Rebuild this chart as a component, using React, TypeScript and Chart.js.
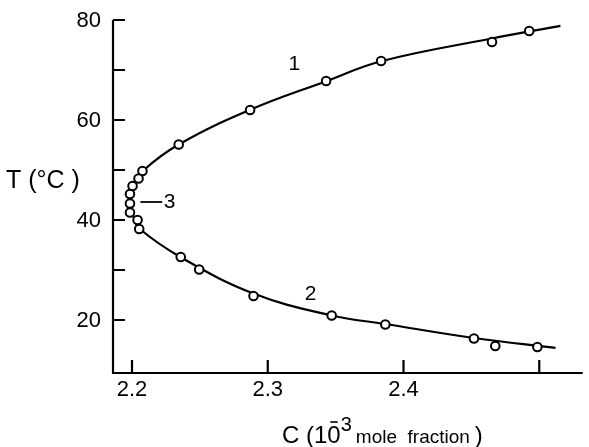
import React, { useEffect, useRef } from "react";
import { Chart, registerables } from "chart.js";

Chart.register(...registerables);

// Experimental points (C in 1e-3 mole fraction, T in °C)
const branch1C = [2.2344, 2.287, 2.343, 2.3835, 2.4652, 2.4926];
const branch1T = [55.1, 62.0, 67.8, 71.8, 75.6, 77.8];
const branch3C = [2.2077, 2.2048, 2.2004, 2.1985, 2.1985, 2.1985, 2.2041, 2.2053];
const branch3T = [49.8, 48.3, 46.8, 45.2, 43.3, 41.5, 40.0, 38.2];
const branch2C = [2.2359, 2.2495, 2.2895, 2.3471, 2.3866, 2.4519, 2.4676, 2.4986];
const branch2T = [32.6, 30.1, 24.8, 20.9, 19.1, 16.3, 14.8, 14.6];

// Fitted curve (from top-right, round the nose, to bottom-right)
const curveC = [2.5156, 2.4649, 2.3835, 2.343, 2.287, 2.2344, 2.2077, 2.2009, 2.1984, 2.1988, 2.2017, 2.2053, 2.2359, 2.2895, 2.3471, 2.3866, 2.4519, 2.512];
const curveT = [78.84, 76.3, 71.76, 67.76, 62.04, 55.1, 49.76, 46.9, 44.3, 42.3, 40.3, 38.3, 32.56, 25.3, 20.9, 19.2, 16.4, 14.44];

// Axes
const xMin = 2.186;
const xMax = 2.532;
const yMin = 9.4;
const yMax = 80;
const xTickValues = [2.2, 2.3, 2.4, 2.5];
const xTickLabels = ["2.2", "2.3", "2.4", ""];
const yTickValues = [20, 30, 40, 50, 60, 70, 80];
const yTickLabels = ["20", "", "40", "", "60", "", "80"];

const FONT = "'Liberation Sans', Arial, sans-serif";

const zip = (xs: number[], ys: number[]) => xs.map((x, i) => ({ x, y: ys[i] }));

const axesPlugin = {
  id: "axesPlugin",
  afterDraw(chart: any) {
    const ctx = chart.ctx as CanvasRenderingContext2D;
    const xs = chart.scales.x;
    const ys = chart.scales.y;
    const { left, right, top, bottom } = chart.chartArea;
    ctx.save();
    ctx.strokeStyle = "#000";
    ctx.fillStyle = "#000";
    ctx.lineWidth = 2.2;
    ctx.lineCap = "butt";
    // axis lines
    ctx.beginPath();
    ctx.moveTo(left, top);
    ctx.lineTo(left, bottom);
    ctx.lineTo(right, bottom);
    ctx.stroke();
    // inward ticks
    ctx.beginPath();
    yTickValues.forEach((v) => {
      const py = ys.getPixelForValue(v);
      ctx.moveTo(left, py);
      ctx.lineTo(left + 12, py);
    });
    xTickValues.forEach((v) => {
      const px = xs.getPixelForValue(v);
      ctx.moveTo(px, bottom);
      ctx.lineTo(px, bottom - 13);
    });
    ctx.stroke();
    // tick labels
    ctx.font = `22px ${FONT}`;
    ctx.textAlign = "right";
    ctx.textBaseline = "middle";
    yTickValues.forEach((v, i) => {
      if (!yTickLabels[i]) return;
      ctx.fillText(yTickLabels[i], left - 12, ys.getPixelForValue(v) + 1);
    });
    ctx.textAlign = "center";
    ctx.textBaseline = "top";
    xTickValues.forEach((v, i) => {
      if (!xTickLabels[i]) return;
      ctx.fillText(xTickLabels[i], xs.getPixelForValue(v), bottom + 6);
    });
    // y title
    ctx.font = `25px ${FONT}`;
    ctx.textAlign = "left";
    ctx.textBaseline = "middle";
    ctx.fillText("T (°C )", 6, 181);
    // x title
    ctx.textBaseline = "alphabetic";
    ctx.font = `24px ${FONT}`;
    let x = 282;
    const base = 443;
    ctx.fillText("C (1", x, base);
    x += ctx.measureText("C (1").width;
    const zeroW = ctx.measureText("0").width;
    ctx.fillText("0", x, base);
    // bar of the minus sign above the 0
    ctx.beginPath();
    ctx.lineWidth = 1.6;
    ctx.moveTo(x + 3, base - 21);
    ctx.lineTo(x + zeroW - 3, base - 21);
    ctx.stroke();
    x += zeroW;
    ctx.font = `20px ${FONT}`;
    ctx.fillText("3", x, base - 12);
    x += ctx.measureText("3").width + 4;
    ctx.font = `19px ${FONT}`;
    ctx.fillText("mole  fraction", x, base);
    x += ctx.measureText("mole  fraction").width + 5;
    ctx.font = `24px ${FONT}`;
    ctx.fillText(")", x, base);
    // curve labels
    ctx.font = `21px ${FONT}`;
    ctx.textAlign = "center";
    ctx.textBaseline = "middle";
    ctx.fillText("1", xs.getPixelForValue(2.3195), ys.getPixelForValue(71.2));
    ctx.fillText("2", xs.getPixelForValue(2.3315), ys.getPixelForValue(25.2));
    ctx.fillText("3", xs.getPixelForValue(2.2277), ys.getPixelForValue(43.5));
    ctx.beginPath();
    ctx.lineWidth = 1.8;
    ctx.moveTo(xs.getPixelForValue(2.2062), ys.getPixelForValue(43.6));
    ctx.lineTo(xs.getPixelForValue(2.2222), ys.getPixelForValue(43.6));
    ctx.stroke();
    ctx.restore();
  },
};

export default function App() {
  const ref = useRef<HTMLCanvasElement | null>(null);
  useEffect(() => {
    if (!ref.current) return;
    const pointStyle = {
      showLine: false,
      pointRadius: 4.3,
      pointBorderWidth: 2,
      pointBackgroundColor: "#fff",
      pointBorderColor: "#000",
    };
    const chart = new Chart(ref.current, {
      type: "scatter",
      data: {
        datasets: [
          { label: "1", data: zip(branch1C, branch1T), ...pointStyle },
          { label: "3", data: zip(branch3C, branch3T), ...pointStyle },
          { label: "2", data: zip(branch2C, branch2T), ...pointStyle },
          {
            label: "fit",
            data: zip(curveC, curveT),
            showLine: true,
            pointRadius: 0,
            borderColor: "#000",
            borderWidth: 2.2,
            tension: 0.4,
            fill: false,
          },
        ],
      },
      options: {
        animation: false,
        responsive: false,
        events: [],
        layout: { padding: { left: 113, right: 0, top: 20, bottom: 74 } },
        plugins: { legend: { display: false }, tooltip: { enabled: false } },
        scales: {
          x: { type: "linear", min: xMin, max: xMax, display: false },
          y: { type: "linear", min: yMin, max: yMax, display: false },
        },
      },
      plugins: [axesPlugin],
    });
    return () => chart.destroy();
  }, []);
  return (
    <div style={{ position: "fixed", left: 0, top: 0, width: 589, height: 447, background: "#fff" }}>
      <canvas ref={ref} width={589} height={447} style={{ display: "block" }} />
    </div>
  );
}
